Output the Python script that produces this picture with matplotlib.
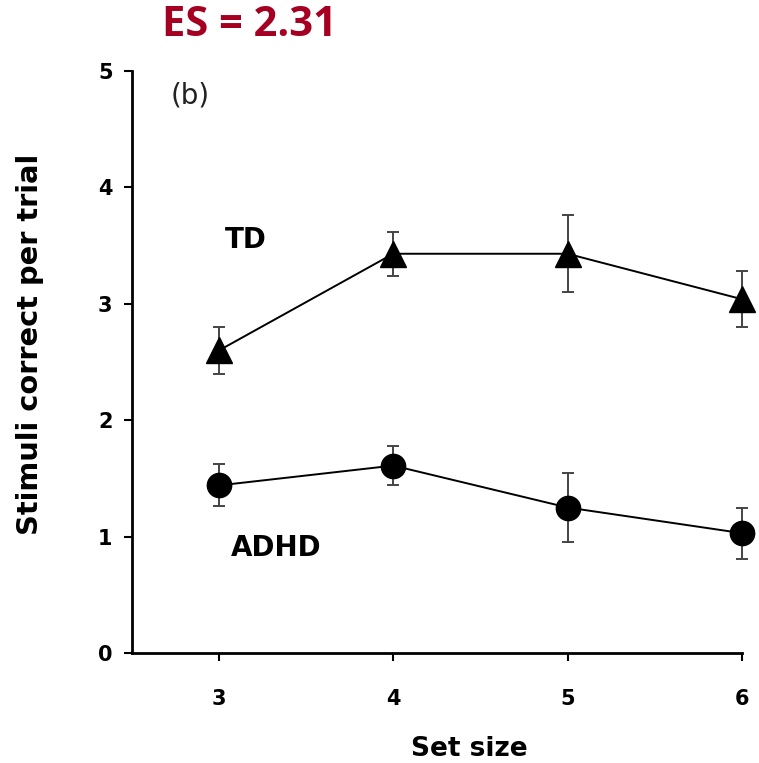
import matplotlib
matplotlib.use("Agg")
import matplotlib.pyplot as plt

set_size = [3, 4, 5, 6]
td_mean = [2.60, 3.43, 3.43, 3.04]
td_err = [0.20, 0.19, 0.33, 0.24]
adhd_mean = [1.44, 1.61, 1.25, 1.03]
adhd_err = [0.18, 0.17, 0.30, 0.22]
yticks = [0, 1, 2, 3, 4, 5]

fig = plt.figure(figsize=(7.59, 7.63), dpi=100)
ax = fig.add_axes([132 / 759, 110 / 763, 609.7 / 759, 582 / 763])

for mean, err, mk, ms in [(td_mean, td_err, "^", 19), (adhd_mean, adhd_err, "o", 17.5)]:
    ax.errorbar(set_size, mean, yerr=err, fmt="none", ecolor="#444444",
                elinewidth=1.4, capsize=4.5, capthick=1.4, clip_on=False, zorder=2)
    ax.plot(set_size, mean, color="black", lw=1.4, marker=mk, ms=ms,
            mfc="black", mec="black", clip_on=False, zorder=3)

ax.set_xlim(2.5, 6.0)
ax.set_ylim(0, 5)
ax.set_xticks(set_size)
ax.set_yticks(yticks)
for s in ["top", "right"]:
    ax.spines[s].set_visible(False)
for s in ["left", "bottom"]:
    ax.spines[s].set_linewidth(2)
ax.tick_params(axis="x", length=6, width=1.5, pad=20, labelsize=15)
ax.tick_params(axis="y", length=6, width=1.5, pad=8, labelsize=15)
for lab in ax.get_xticklabels() + ax.get_yticklabels():
    lab.set_fontweight("bold")

ax.set_xlabel("Set size", fontsize=19, fontweight="bold")
ax.xaxis.set_label_coords(0.554, -0.142)
ax.set_ylabel("Stimuli correct per trial", fontsize=20.8, fontweight="bold", va="center")
ax.yaxis.set_label_coords(-0.167, 0.531)

ax.text(2.833, 4.79, "(b)", fontsize=20, ha="center", va="center", color="#222222")
ax.text(3.154, 3.55, "TD", fontsize=20, fontweight="bold", ha="center", va="center")
ax.text(3.327, 0.90, "ADHD", fontsize=20, fontweight="bold", ha="center", va="center")

fig.text(250 / 759, 1 - 25 / 763, "ES = 2.31", fontsize=30, fontweight="bold",
         family="Open Sans", color="#A50021", ha="center", va="center")

fig.savefig("out.png", dpi=100)
